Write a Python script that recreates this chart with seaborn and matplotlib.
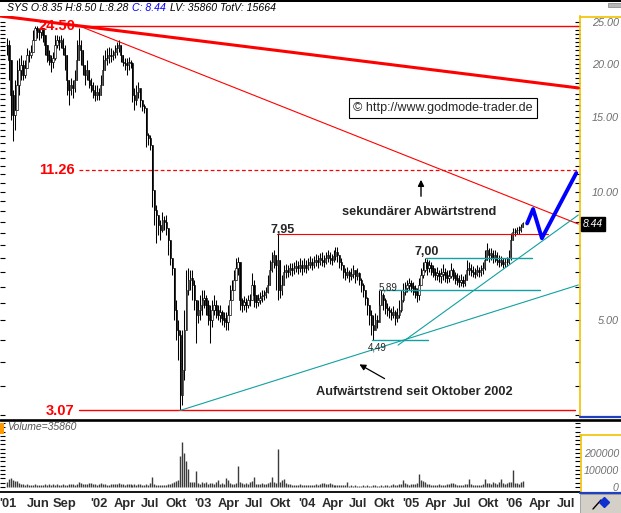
import numpy as np
import pandas as pd
import matplotlib
matplotlib.use("Agg")
import matplotlib.pyplot as plt
import matplotlib.dates as mdates
from matplotlib.lines import Line2D
from matplotlib.patches import Rectangle
from matplotlib.ticker import NullFormatter
import seaborn as sns

sns.set_style("white")
plt.rcParams["font.family"] = ["Liberation Sans", "DejaVu Sans"]

# ---------------- data (weekly) ----------------
start_date = "2001-02-12"

close = [
    22.14, 20.41, 16.90, 15.17, 15.58, 17.84, 19.34, 19.88, 18.83, 19.55,
    20.98, 20.98, 21.31, 22.74, 24.27, 24.00, 23.75, 24.27, 23.37, 22.14,
    20.98, 20.41, 20.20, 20.63, 22.14, 22.74, 22.50, 22.74, 21.78, 20.98,
    18.32, 17.36, 17.84, 17.55, 18.32, 20.41, 22.14, 21.54, 19.88, 18.83,
    19.34, 18.32, 17.84, 17.36, 16.90, 17.18, 16.90, 17.84,
    19.34, 20.41, 20.63, 20.98, 20.86, 20.98, 21.31, 21.78, 22.14, 20.98,
    20.20, 20.09, 19.88, 20.20, 20.09, 16.90, 16.44, 17.18, 17.55, 16.44,
    15.92, 15.75, 13.62, 13.40, 12.90, 10.11, 9.07, 8.84, 8.37, 8.14,
    8.60, 8.51, 8.23, 7.71, 7.00, 6.63, 5.28, 4.74, 4.62, 3.34,
    3.82, 4.74, 5.89, 6.21, 6.28,
    6.05, 5.58, 5.14, 5.28, 5.43, 5.58, 5.64, 5.43, 5.14, 5.00,
    5.28, 5.43, 5.28, 5.14, 5.22, 5.06, 5.00, 4.95, 5.14, 5.58,
    5.89, 6.21, 6.63, 6.85, 5.58, 5.43, 5.52, 5.43, 5.58, 5.58,
    6.05, 5.74, 5.52, 5.58, 5.64, 5.70, 5.74, 5.83, 6.05, 6.56,
    6.85, 7.12, 6.74, 6.92, 5.89, 6.05, 6.49, 6.56, 6.49, 6.63,
    6.56, 6.63, 6.71, 6.63, 6.74,
    6.63, 6.74, 6.63, 6.74, 6.85, 6.74, 6.85, 6.92, 6.85, 7.00,
    6.92, 6.85, 7.00, 7.12, 7.00, 6.92, 7.08, 7.23, 7.12, 6.85,
    6.74, 6.49, 6.39, 6.49, 6.35, 6.42, 6.56, 6.35, 6.46, 6.21,
    6.05, 5.89, 5.64, 5.43, 5.14, 4.87, 4.74, 5.00, 4.95, 5.43,
    5.74, 5.58, 5.34, 5.28, 5.22, 5.14, 5.22, 5.06, 5.14, 5.28,
    5.58, 5.83, 5.96, 6.05, 6.12, 6.02, 5.96, 5.83, 5.74, 6.05,
    6.39, 6.56, 6.85, 6.63, 6.74, 6.63, 6.49, 6.39, 6.46, 6.35,
    6.42, 6.49, 6.39, 6.28, 6.35, 6.56, 6.39, 6.28, 6.21, 6.15,
    6.21, 6.12, 6.21, 6.56, 6.63, 6.56, 6.49, 6.42, 6.56, 6.49,
    6.56, 6.63, 6.92, 7.31, 7.12, 7.19, 7.00, 7.12, 6.92, 6.85,
    6.92, 6.78, 6.85, 6.85, 7.00, 7.71, 8.05, 8.05, 8.14, 8.14,
    8.28, 8.44,
]

high = [
    22.99, 22.74, 19.34, 17.36, 18.32, 20.41, 20.63, 20.98, 20.41, 20.41,
    21.78, 21.54, 22.14, 24.00, 24.50, 24.50, 24.20, 24.40, 24.27, 23.37,
    22.14, 21.54, 20.98, 21.31, 23.37, 23.37, 23.24, 23.37, 22.99, 22.14,
    20.41, 18.32, 18.52, 18.32, 19.34, 22.74, 24.30, 22.74, 20.98, 19.88,
    20.41, 19.14, 18.52, 18.13, 17.84, 17.84, 17.55, 18.83,
    20.98, 21.54, 21.78, 21.90, 21.78, 21.54, 22.14, 22.50, 22.74, 22.14,
    20.63, 20.63, 20.63, 20.75, 20.41, 20.20, 17.55, 17.84, 18.13, 17.36,
    16.27, 16.10, 15.58, 13.76, 13.62, 12.90, 9.58, 9.33, 8.84, 8.60,
    8.98, 8.79, 8.84, 8.23, 7.51, 7.00, 6.63, 5.58, 5.00, 4.74,
    4.74, 5.28, 6.56, 6.63, 6.56,
    6.56, 6.21, 5.58, 5.58, 5.74, 5.89, 5.89, 5.74, 5.58, 5.43,
    5.58, 5.74, 5.58, 5.43, 5.43, 5.28, 5.22, 5.22, 5.43, 6.05,
    6.21, 6.56, 7.00, 7.04, 6.74, 5.64, 5.70, 5.64, 5.74, 5.77,
    6.46, 6.21, 5.74, 5.77, 5.83, 5.89, 5.89, 5.99, 6.39, 6.92,
    7.23, 7.31, 7.12, 7.95, 6.56, 6.39, 6.74, 6.78, 6.74, 6.81,
    6.81, 6.85, 6.92, 6.88, 7.00,
    6.92, 7.00, 6.92, 7.00, 7.08, 7.00, 7.08, 7.15, 7.12, 7.19,
    7.23, 7.12, 7.23, 7.31, 7.23, 7.15, 7.31, 7.43, 7.43, 7.12,
    7.00, 6.74, 6.63, 6.67, 6.56, 6.63, 6.74, 6.56, 6.63, 6.49,
    6.28, 6.12, 5.89, 5.67, 5.43, 5.28, 5.14, 5.20, 5.14, 5.89,
    5.89, 5.80, 5.64, 5.49, 5.40, 5.34, 5.40, 5.28, 5.34, 5.58,
    5.89, 6.12, 6.15, 6.21, 6.28, 6.21, 6.15, 6.05, 5.96, 6.28,
    6.63, 6.85, 7.00, 6.96, 6.92, 6.85, 6.74, 6.63, 6.67, 6.56,
    6.63, 6.78, 6.63, 6.56, 6.56, 6.81, 6.63, 6.49, 6.46, 6.39,
    6.42, 6.35, 6.42, 6.92, 6.85, 6.78, 6.71, 6.63, 6.74, 6.67,
    6.74, 6.85, 7.31, 7.59, 7.39, 7.39, 7.31, 7.31, 7.23, 7.12,
    7.08, 7.00, 7.00, 7.04, 7.31, 8.01, 8.23, 8.23, 8.28, 8.32,
    8.42, 8.50,
]

low = [
    20.98, 18.32, 14.76, 13.18, 13.98, 15.58, 16.90, 18.32, 18.32, 18.52,
    20.20, 20.20, 20.63, 21.54, 22.74, 22.99, 22.74, 22.99, 22.50, 20.98,
    20.20, 19.88, 19.14, 19.55, 20.41, 21.78, 21.54, 21.78, 20.98, 19.34,
    16.90, 16.01, 16.90, 16.62, 17.18, 18.83, 20.98, 19.88, 18.83, 17.84,
    18.32, 17.55, 17.18, 16.62, 16.35, 16.44, 16.44, 16.90,
    17.84, 19.34, 19.88, 20.09, 20.20, 20.41, 20.63, 20.98, 21.31, 20.20,
    19.77, 19.34, 18.83, 19.34, 19.55, 16.27, 15.58, 16.01, 16.62, 15.84,
    15.50, 15.33, 12.76, 12.90, 12.55, 9.22, 8.37, 7.59, 7.93, 7.71,
    8.05, 8.14, 7.93, 7.12, 6.74, 6.39, 5.00, 4.49, 4.03, 3.07,
    3.17, 3.62, 4.74, 5.74, 5.89,
    5.58, 5.28, 4.42, 4.92, 5.00, 5.14, 5.34, 5.14, 4.87, 4.42,
    4.82, 5.14, 5.06, 5.00, 4.95, 4.87, 4.82, 4.74, 4.74, 5.22,
    5.58, 5.89, 6.21, 6.39, 5.28, 5.22, 5.28, 5.22, 5.34, 5.40,
    5.58, 5.37, 5.34, 5.40, 5.46, 5.52, 5.58, 5.64, 5.80, 6.05,
    6.49, 6.63, 5.89, 5.58, 5.64, 5.74, 6.15, 6.28, 6.32, 6.39,
    6.35, 6.42, 6.49, 6.42, 6.49,
    6.39, 6.49, 6.46, 6.56, 6.63, 6.56, 6.63, 6.71, 6.63, 6.74,
    6.71, 6.67, 6.78, 6.85, 6.78, 6.74, 6.85, 6.92, 6.85, 6.63,
    6.56, 6.28, 6.21, 6.28, 6.15, 6.21, 6.28, 6.12, 6.21, 6.05,
    5.83, 5.67, 5.43, 5.14, 4.87, 4.62, 4.49, 4.79, 4.79, 5.06,
    5.43, 5.28, 5.17, 5.11, 5.06, 5.00, 5.06, 4.87, 4.95, 5.06,
    5.22, 5.52, 5.74, 5.83, 5.89, 5.83, 5.74, 5.64, 5.52, 5.58,
    6.05, 6.28, 6.49, 6.39, 6.49, 6.39, 6.32, 6.21, 6.21, 6.15,
    6.12, 6.21, 6.15, 6.12, 6.15, 6.28, 6.21, 6.08, 6.05, 5.99,
    6.02, 5.99, 6.02, 6.21, 6.39, 6.35, 6.32, 6.28, 6.35, 6.32,
    6.35, 6.42, 6.56, 7.00, 6.85, 6.92, 6.81, 6.85, 6.74, 6.67,
    6.71, 6.63, 6.67, 6.71, 6.78, 6.92, 7.71, 7.88, 7.97, 7.97,
    8.05, 8.28,
]

volume_k = [
    30, 45, 50, 40, 35, 38, 25, 20,
    18, 12, 15, 10, 14, 12, 16, 10, 12, 14, 10, 15, 12, 18, 14, 16, 12, 15, 11, 13,
    16, 14, 12, 15, 18, 20, 14, 16, 30, 22,
    20, 18, 15, 22, 25, 18, 16, 14, 20, 22, 18, 15, 14, 12, 16, 18, 15, 20, 24, 18,
    16, 14, 15, 20, 18, 14, 16, 12, 15, 18, 14, 12, 15, 14, 25, 59,
    15, 12, 14, 10, 12, 14, 12, 16, 20, 25, 30, 35, 40, 180,
    263, 198, 152, 105, 30, 28, 32, 96,
    25, 20, 28, 22, 30, 18, 25, 22, 20, 28, 40, 20, 25, 18, 50, 40, 25,
    20, 18, 25, 124, 30, 22, 18, 25, 20, 30, 35, 59, 20, 18, 15, 22,
    18, 15, 22, 30, 59, 30, 25, 226, 30, 40, 45, 25, 20,
    15, 12, 14, 10, 12, 15, 11, 13, 12, 10, 14, 12, 11, 15, 13, 18, 25, 24, 20, 18,
    25, 15, 12, 14, 11, 13, 12, 10, 14,
    30,
    8, 10, 7, 9, 8, 6, 8, 10, 7, 9, 8, 7, 9, 10, 8, 7, 9, 8, 10, 9, 8, 12, 15, 10,
    12, 18, 20, 40,
    22, 15, 14, 16, 18, 20, 25, 74,
    40, 37, 30, 20, 15, 12, 14, 10, 12, 15, 10, 12, 14, 18, 20, 25, 22, 15, 12, 14,
    10, 12, 15, 18, 46,
    15, 10, 12, 14, 12, 10, 15, 46,
    25, 22, 20, 28, 24, 18, 30, 46, 25, 20, 22, 28, 30,
    102, 25, 22, 20, 28, 35.86,
]

tick_dates = ["2001-02-15", "2001-06-01", "2001-09-01", "2002-01-01", "2002-04-01",
              "2002-07-01", "2002-10-01", "2003-01-01", "2003-04-01", "2003-07-01",
              "2003-10-01", "2004-01-01", "2004-04-01", "2004-07-01", "2004-10-01",
              "2005-01-01", "2005-04-01", "2005-07-01", "2005-10-01", "2006-01-01",
              "2006-04-01", "2006-07-01"]
tick_labels = ["'01", "Jun", "Sep", "'02", "Apr", "Jul", "Okt", "'03", "Apr", "Jul",
               "Okt", "'04", "Apr", "Jul", "Okt", "'05", "Apr", "Jul", "Okt", "'06",
               "Apr", "Jul"]
price_ticks = [5, 10, 15, 20, 25]
price_tick_labels = ["5.00", "10.00", "15.00", "20.00", "25.00"]
vol_ticks = [0, 100000, 200000]
vol_tick_labels = ["0", "100000", "200000"]

header_parts = ["SYS O:8.35 H:8.50 L:8.28", "C: 8.44", "LV: 35860 TotV: 15664"]

# trend lines: (dates, prices)
thick_red_dates = ["2001-01-18", "2006-08-14"]; thick_red_prices = [25.89, 17.55]
thin_red_dates = ["2001-10-26", "2006-08-14"]; thin_red_prices = [24.50, 8.41]
h2450_dates = ["2001-10-09", "2006-08-14"]; h2450_prices = [24.50, 24.50]
h1126_dates = ["2001-10-24", "2006-08-14"]; h1126_prices = [11.26, 11.26]
h307_dates = ["2001-10-24", "2006-08-03"]; h307_prices = [3.07, 3.07]
h795_dates = ["2003-09-19", "2006-04-30"]; h795_prices = [7.95, 7.95]
cyan_long_dates = ["2002-10-13", "2006-08-14"]; cyan_long_prices = [3.07, 6.05]
cyan_steep_dates = ["2004-11-18", "2006-08-14"]; cyan_steep_prices = [4.37, 8.83]
h449_dates = ["2004-08-18", "2005-03-03"]; h449_prices = [4.49, 4.49]
h589_dates = ["2004-09-19", "2006-04-02"]; h589_prices = [5.89, 5.89]
h700_dates = ["2005-02-24", "2006-03-05"]; h700_prices = [7.00, 7.00]
forecast_dates = ["2006-02-15", "2006-03-08", "2006-04-08", "2006-08-07"]
forecast_prices = [8.44, 9.12, 7.79, 11.08]

# ---------------- figure ----------------
W, H = 621, 513
fig = plt.figure(figsize=(W / 100, H / 100), dpi=100)
fig.patch.set_facecolor("white")


def fx(px):
    return px / W


def fy(py):
    return 1 - py / H


def fline(x0, y0, x1, y1, **kw):
    fig.add_artist(Line2D([fx(x0), fx(x1)], [fy(y0), fy(y1)],
                          transform=fig.transFigure, **kw))


ax = fig.add_axes([0, fy(416), fx(580), (416 - 16) / H])
axv = fig.add_axes([0, fy(492), fx(580), (492 - 421) / H])

xl = mdates.date2num(pd.Timestamp("2001-01-18"))
xr = mdates.date2num(pd.Timestamp("2006-08-20"))

dates = pd.date_range(start_date, periods=len(close), freq="7D")
d = mdates.date2num(dates)
c = np.array(close)
hi = np.array(high)
lo = np.array(low)
o = np.r_[c[0], c[:-1]]
up = c >= o

YELLOW = "#f2c200"
CYAN = "#12a0a0"
RED = "#ff0000"


def seg(dl, pl, **kw):
    sns.lineplot(x=mdates.date2num(pd.to_datetime(dl)), y=pl, ax=ax,
                 estimator=None, sort=False, legend=False, **kw)


# trend lines
seg(thick_red_dates, thick_red_prices, color=RED, linewidth=2.2, zorder=3)
seg(thin_red_dates, thin_red_prices, color=RED, linewidth=0.8, zorder=3)
seg(h2450_dates, h2450_prices, color=RED, linewidth=1.0, zorder=3)
seg(h1126_dates, h1126_prices, color=RED, linewidth=0.9, linestyle=(0, (3, 2)), zorder=3)
seg(h307_dates, h307_prices, color=RED, linewidth=1.0, zorder=3)
seg(h795_dates, h795_prices, color=RED, linewidth=0.8, zorder=3)
seg(cyan_long_dates, cyan_long_prices, color=CYAN, linewidth=0.8, zorder=3)
seg(cyan_steep_dates, cyan_steep_prices, color=CYAN, linewidth=0.8, zorder=3)
seg(h449_dates, h449_prices, color=CYAN, linewidth=1.0, zorder=3)
seg(h589_dates, h589_prices, color=CYAN, linewidth=1.0, zorder=3)
seg(h700_dates, h700_prices, color=CYAN, linewidth=1.0, zorder=3)
seg(forecast_dates, forecast_prices, color="#0000ff", linewidth=2.8, zorder=4)

# candles
ax.vlines(d, np.minimum(lo, np.minimum(o, c)), np.maximum(hi, np.maximum(o, c)),
          color="black", linewidth=0.75, zorder=2)
body_h = np.maximum(np.abs(c - o), 0.01)
ax.bar(d, body_h, bottom=np.minimum(o, c), width=4.5,
       color=np.where(up, "white", "black"), edgecolor="black", linewidth=0.45, zorder=2)

ax.set_yscale("log")
ax.set_ylim(2.98, 25.89)
ax.set_xlim(xl, xr)
ax.set_xticks([])
ax.set_yticks(price_ticks)
ax.set_yticklabels(price_tick_labels)
minor = [v for v in np.arange(3.0, 25.01, 0.5) if v not in price_ticks]
ax.set_yticks(minor, minor=True)
ax.yaxis.set_minor_formatter(NullFormatter())
ax.tick_params(axis="y", which="both", direction="in", left=True, right=True,
               labelleft=False, labelright=True, length=3.5, width=0.8,
               color="black", pad=28, labelsize=7.8, labelcolor="#6e6e6e")
for lab in ax.get_yticklabels():
    lab.set_horizontalalignment("right")
    lab.set_fontstyle("italic")
for s in ["top", "left", "bottom"]:
    ax.spines[s].set_visible(False)
ax.spines["right"].set_color(YELLOW)
ax.spines["right"].set_linewidth(1.2)
ax.set_xlabel("")
ax.set_ylabel("")

# volume
vol = np.array(volume_k) * 1000
axv.vlines(d, 0, vol, color="#3c3c3c", linewidth=1.0)
axv.set_xlim(xl, xr)
axv.set_ylim(-29412, 388235)
axv.set_yticks(vol_ticks)
axv.set_yticklabels(vol_tick_labels)
axv.set_yticks(np.arange(25000, 375001, 25000), minor=True)
axv.yaxis.set_minor_formatter(NullFormatter())
axv.tick_params(axis="y", which="both", direction="in", left=True, right=True,
                labelleft=False, labelright=True, length=3.5, width=0.8,
                color="black", pad=28, labelsize=7.6, labelcolor="#6e6e6e")
for lab in axv.get_yticklabels():
    lab.set_horizontalalignment("right")
    lab.set_fontstyle("italic")
axv.set_xticks(mdates.date2num(pd.to_datetime(tick_dates)))
axv.set_xticklabels(tick_labels)
axv.tick_params(axis="x", length=0, pad=4.5, labelsize=9.3, labelcolor="#2a2a2a")
for lab in axv.get_xticklabels():
    lab.set_fontweight("bold")
for s in ["top", "left", "right"]:
    axv.spines[s].set_visible(False)
axv.spines["bottom"].set_color("black")
axv.spines["bottom"].set_linewidth(1.3)

# ---------------- decorations ----------------
fig.add_artist(Rectangle((0, fy(2)), 1, 2 / H, transform=fig.transFigure,
                         facecolor="black", edgecolor="none"))
fig.add_artist(Rectangle((fx(608), fy(7)), fx(13), 4 / H, transform=fig.transFigure,
                         facecolor="#b8b8b8", edgecolor="#808080", linewidth=0.5))
fline(580, 16.5, 621, 16.5, color=YELLOW, linewidth=1.2)
fline(580, 416.8, 621, 416.8, color="#2040c0", linewidth=1.6)
fline(0, 420, 621, 420, color="black", linewidth=1.9)
fline(580.5, 435, 580.5, 492, color=YELLOW, linewidth=1.2)
fline(580, 435, 621, 435, color=YELLOW, linewidth=1.2)
fline(580, 492.5, 621, 492.5, color="#2040c0", linewidth=1.6)
fig.add_artist(Rectangle((fx(580), 0), fx(41), 19 / H, transform=fig.transFigure,
                         facecolor="#d4d0c8", edgecolor="#9a9a9a", linewidth=0.6))
fline(593, 509, 601, 500, color="black", linewidth=1.0)
fig.add_artist(Line2D([fx(604)], [fy(502)], transform=fig.transFigure, marker="D",
                      markersize=5, color="#1030d0"))
fig.add_artist(Rectangle((0, fy(434)), fx(4), 11 / H, transform=fig.transFigure,
                         facecolor="#ff9900", edgecolor="none"))

# header (laid out piece by piece)
renderer = fig.canvas.get_renderer()
hdr = dict(fontsize=7.6, style="italic", va="center", ha="left")
xpos = 7
for part, col in zip(header_parts, ["black", "#0000ff", "black"]):
    t = fig.text(fx(xpos), fy(8), part, color=col, **hdr)
    bb = t.get_window_extent(renderer)
    xpos = bb.x1 + 4

fig.text(fx(7), fy(427), "Volume=35860", fontsize=7.5, style="italic",
         color="#555555", va="center", ha="left")

# level labels
lvl = dict(color=RED, fontsize=10.5, fontweight="bold", ha="center", va="center", zorder=10)
fig.text(fx(57), fy(26), "24.50", **lvl)
fig.text(fx(57), fy(170), "11.26", **lvl)
fig.text(fx(60), fy(411), "3.07", **lvl)
fig.text(fx(283), fy(230), "7,95", fontsize=9, fontweight="bold", ha="center", va="center")
fig.text(fx(427), fy(252), "7,00", fontsize=9, fontweight="bold", ha="center", va="center")
fig.text(fx(388), fy(288), "5,89", fontsize=7, ha="center", va="center")
fig.text(fx(377), fy(347), "4,49", fontsize=7, ha="center", va="center")

fig.text(fx(342), fy(212), "sekundärer Abwärtstrend", fontsize=9.2, fontweight="bold",
         ha="left", va="center")
fig.text(fx(316), fy(392), "Aufwärtstrend seit Oktober 2002", fontsize=9.2,
         fontweight="bold", ha="left", va="center")
fig.text(fx(443), fy(108), "\u00a9 http://www.godmode-trader.de", fontsize=9,
         ha="center", va="center",
         bbox=dict(boxstyle="square,pad=0.3", fc="white", ec="black", lw=0.8))
fig.text(fx(593), fy(224), "8.44", fontsize=7.5, style="italic", color="white",
         ha="center", va="center",
         bbox=dict(boxstyle="square,pad=0.2", fc="black", ec="black"))

ax.annotate("", xy=(fx(421), fy(177)), xytext=(fx(421), fy(199)),
            xycoords="figure fraction", textcoords="figure fraction",
            arrowprops=dict(arrowstyle="-|>", color="black", lw=1.0, mutation_scale=9))
ax.annotate("", xy=(fx(357), fy(363)), xytext=(fx(387), fy(380)),
            xycoords="figure fraction", textcoords="figure fraction",
            arrowprops=dict(arrowstyle="-|>", color="black", lw=0.9, mutation_scale=9))

fig.savefig("out.png", dpi=100, facecolor="white")
